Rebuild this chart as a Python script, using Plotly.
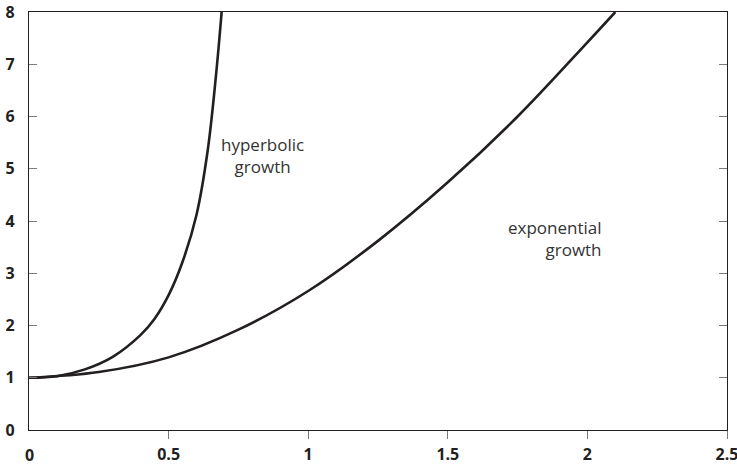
import plotly.graph_objects as go

# Hyperbolic growth curve (x, y) samples
hyper_x = [0.0, 0.10, 0.20, 0.30, 0.40, 0.45, 0.50, 0.55, 0.60, 0.64, 0.67, 0.69]
hyper_y = [1.0, 1.03, 1.16, 1.40, 1.82, 2.13, 2.58, 3.22, 4.12, 5.35, 6.80, 8.0]

# Exponential growth curve (x, y) samples
expo_x = [0.0, 0.25, 0.50, 0.75, 1.00, 1.25, 1.50, 1.75, 2.00, 2.10]
expo_y = [1.0, 1.11, 1.39, 1.92, 2.66, 3.62, 4.74, 6.00, 7.42, 8.0]

x_ticks = [0.5, 1, 1.5, 2, 2.5]
x_tick_text = ["0.5", "1", "1.5", "2", "2.5"]
y_ticks = [0, 1, 2, 3, 4, 5, 6, 7, 8]

INK = "#231f20"
TICK_GREY = "#7a7a7a"
FONT = "Open Sans"

fig = go.Figure()
for xs, ys in ((hyper_x, hyper_y), (expo_x, expo_y)):
    fig.add_trace(go.Scatter(
        x=xs, y=ys, mode="lines",
        line=dict(color=INK, width=2.6, shape="spline", smoothing=1.0),
        showlegend=False, hoverinfo="skip",
    ))

fig.update_layout(
    width=737, height=465,
    margin=dict(l=29, r=10, t=12, b=35),
    paper_bgcolor="white", plot_bgcolor="white",
    font=dict(family=FONT, color=INK),
    xaxis=dict(
        range=[0, 2.5], tickvals=x_ticks, ticktext=x_tick_text,
        ticks="outside", ticklen=8, tickwidth=1.2, tickcolor=TICK_GREY,
        showline=True, linecolor=INK, linewidth=1.4, mirror=True,
        showgrid=False, zeroline=False, automargin=False,
        ticklabeloverflow="allow",
        tickfont=dict(family=FONT, size=16, color=INK, weight="bold"),
        ticklabelstandoff=2,
    ),
    yaxis=dict(
        range=[0, 8], tickvals=y_ticks,
        ticks="inside", ticklen=8, tickwidth=1.2, tickcolor=TICK_GREY,
        showline=True, linecolor=INK, linewidth=1.4, mirror="allticks",
        showgrid=False, zeroline=False, automargin=False,
        ticklabeloverflow="allow",
        tickfont=dict(family=FONT, size=16, color=INK, weight="bold"),
        ticklabelstandoff=10,
    ),
)

# "0" at the x origin, placed like the other x tick labels
fig.add_annotation(
    x=0, y=0, xref="x", yref="y", text="0", showarrow=False,
    yanchor="top", yshift=-12,
    font=dict(family=FONT, size=16, color=INK, weight="bold"),
)

fig.add_annotation(
    x=0.838, y=5.26, xref="x", yref="y",
    text="hyperbolic<br>growth", showarrow=False, align="center",
    font=dict(family=FONT, size=17, color="#333333"),
)
fig.add_annotation(
    x=2.06, y=3.66, xref="x", yref="y", xanchor="right",
    text="exponential<br>growth", showarrow=False, align="right",
    font=dict(family=FONT, size=17, color="#333333"),
)

fig.write_html("out.html")
